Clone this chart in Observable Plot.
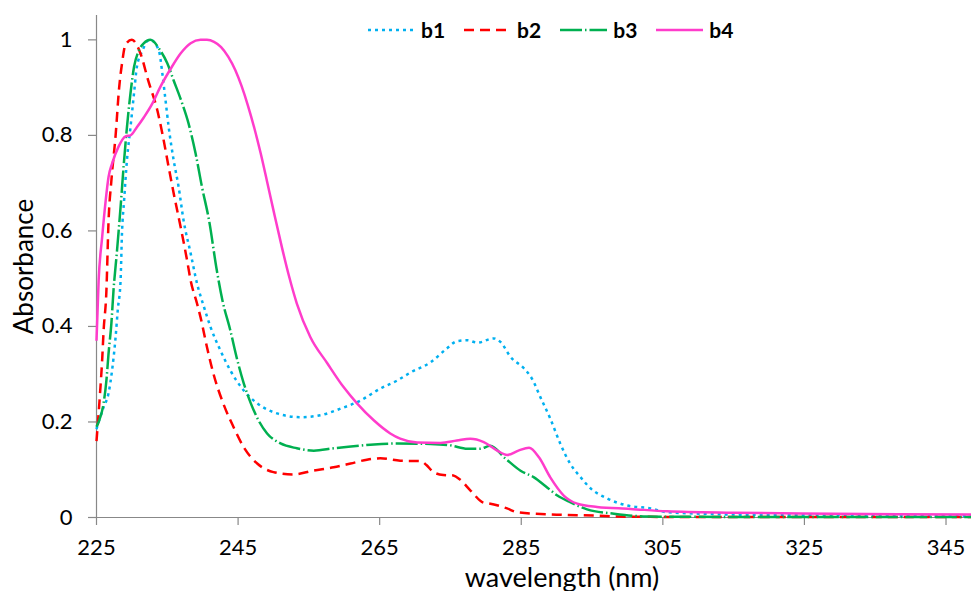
<!DOCTYPE html>
<html>
<head>
<meta charset="utf-8">
<script src="https://cdn.jsdelivr.net/npm/d3@7"></script>
<script src="https://cdn.jsdelivr.net/npm/@observablehq/plot@0.6"></script>
<style>
  html, body { margin: 0; padding: 0; background: #fff; overflow: hidden; }
  #wrap { position: relative; width: 971px; height: 591px; font-family: Lato, "Open Sans", sans-serif; }
  #legend { position: absolute; left: 368px; top: 17px; display: flex; align-items: center; font-weight: bold; font-size: 21px; color: #000; }
  #legend .item { display: flex; align-items: center; margin-right: 19px; }
  #legend svg { display: block; margin-right: 6px; }
</style>
</head>
<body>
<div id="wrap"><div id="legend"></div></div>
<script>
// ---- data (wavelength in nm, absorbance normalised) ----
const seriesNames = ["b1", "b2", "b3", "b4"];

const b1_nm  = [225.0, 225.3, 226.0, 226.7, 227.2, 227.7, 228.0, 228.4, 228.6, 228.9, 229.3, 229.8, 230.3, 230.7, 231.5, 232.2, 232.6, 233.8, 234.3, 234.7, 235.2, 235.9, 236.6, 237.3, 238.3, 239.2, 240.2, 241.1, 242.5, 243.9, 245.8, 247.7, 250.5, 253.8, 256.6, 259.5, 262.3, 265.1, 267.5, 269.4, 272.2, 274.5, 275.9, 277.4, 278.8, 281.1, 282.1, 283.5, 285.4, 286.5, 287.7, 289.1, 290.5, 291.9, 293.4, 294.8, 297.1, 300.0, 303.3, 305.6, 310.4, 320.0, 335.0, 349.0];
const b1_abs = [0.185, 0.200, 0.231, 0.260, 0.308, 0.378, 0.434, 0.496, 0.595, 0.664, 0.748, 0.817, 0.888, 0.943, 0.978, 0.998, 1.000, 0.978, 0.930, 0.880, 0.817, 0.748, 0.692, 0.622, 0.553, 0.490, 0.440, 0.399, 0.350, 0.308, 0.266, 0.239, 0.218, 0.210, 0.214, 0.228, 0.245, 0.270, 0.287, 0.304, 0.325, 0.354, 0.369, 0.371, 0.366, 0.375, 0.367, 0.336, 0.312, 0.291, 0.252, 0.207, 0.155, 0.113, 0.084, 0.061, 0.040, 0.025, 0.019, 0.011, 0.008, 0.005, 0.004, 0.003];

const b2_nm  = [225.0, 225.5, 225.8, 226.0, 226.4, 226.7, 227.1, 227.7, 228.2, 228.6, 229.1, 230.0, 231.2, 232.3, 233.6, 234.3, 235.2, 235.9, 236.9, 237.8, 238.3, 239.2, 239.7, 240.6, 241.5, 242.9, 244.4, 245.8, 247.7, 250.0, 252.8, 255.6, 258.5, 260.9, 263.2, 265.1, 267.9, 270.8, 271.6, 272.6, 274.0, 275.4, 276.3, 277.8, 279.7, 280.2, 283.0, 284.4, 290.0, 295.7, 298.5, 310.0, 349.0];
const b2_abs = [0.160, 0.260, 0.330, 0.390, 0.475, 0.620, 0.705, 0.800, 0.900, 0.950, 0.990, 1.000, 0.972, 0.915, 0.852, 0.804, 0.733, 0.679, 0.607, 0.538, 0.496, 0.448, 0.419, 0.357, 0.302, 0.239, 0.188, 0.147, 0.113, 0.095, 0.090, 0.098, 0.105, 0.113, 0.121, 0.124, 0.119, 0.118, 0.110, 0.095, 0.089, 0.088, 0.080, 0.057, 0.031, 0.030, 0.019, 0.011, 0.006, 0.004, 0.002, 0.001, 0.001];

const b3_nm  = [225.0, 225.3, 226.0, 226.4, 226.7, 227.1, 227.4, 227.9, 228.4, 228.9, 229.3, 229.8, 230.3, 231.0, 231.7, 232.6, 234.0, 235.0, 235.9, 237.1, 238.0, 239.0, 239.9, 240.9, 242.0, 242.8, 243.9, 244.9, 245.8, 246.8, 247.9, 249.1, 251.0, 253.3, 255.7, 258.5, 261.3, 264.2, 267.5, 272.2, 275.0, 277.4, 279.2, 280.6, 282.8, 284.9, 286.8, 288.4, 290.1, 291.9, 294.3, 298.1, 302.8, 320.0, 349.0];
const b3_abs = [0.190, 0.200, 0.239, 0.287, 0.343, 0.406, 0.475, 0.559, 0.650, 0.748, 0.817, 0.888, 0.943, 0.978, 0.993, 1.000, 0.978, 0.951, 0.915, 0.867, 0.825, 0.762, 0.692, 0.622, 0.517, 0.454, 0.392, 0.329, 0.281, 0.239, 0.203, 0.176, 0.155, 0.145, 0.140, 0.145, 0.149, 0.153, 0.155, 0.154, 0.151, 0.144, 0.144, 0.150, 0.123, 0.098, 0.084, 0.066, 0.046, 0.032, 0.017, 0.008, 0.002, 0.001, 0.001];

const b4_nm  = [225.0, 225.3, 225.8, 226.3, 226.7, 227.2, 228.1, 229.1, 229.8, 230.7, 231.7, 232.9, 234.0, 235.5, 236.9, 238.3, 239.7, 240.6, 241.6, 242.6, 243.6, 244.6, 245.5, 246.4, 247.3, 248.2, 249.1, 250.0, 251.2, 252.2, 253.3, 255.2, 257.6, 259.9, 261.8, 264.2, 266.5, 267.9, 270.3, 273.6, 275.9, 277.8, 279.7, 281.6, 283.0, 284.6, 286.1, 287.5, 289.1, 291.0, 292.9, 295.7, 300.4, 305.6, 315.0, 329.1, 349.0];
const b4_abs = [0.370, 0.496, 0.587, 0.664, 0.713, 0.741, 0.776, 0.798, 0.800, 0.817, 0.838, 0.867, 0.901, 0.940, 0.972, 0.993, 1.000, 1.000, 0.996, 0.985, 0.965, 0.937, 0.903, 0.862, 0.815, 0.762, 0.703, 0.643, 0.565, 0.505, 0.448, 0.378, 0.323, 0.273, 0.239, 0.203, 0.176, 0.165, 0.157, 0.156, 0.161, 0.165, 0.158, 0.140, 0.131, 0.140, 0.146, 0.126, 0.084, 0.046, 0.029, 0.022, 0.018, 0.013, 0.010, 0.008, 0.006];

const xTicks = [225, 245, 265, 285, 305, 325, 345];
const yTicks = [0, 0.2, 0.4, 0.6, 0.8, 1];
const yTickLabels = ["0", "0.2", "0.4", "0.6", "0.8", "1"];

// ---- styles ----
const styles = {
  b1: {stroke: "#00B0F0", dash: "3 4"},
  b2: {stroke: "#FF0000", dash: "10 6"},
  b3: {stroke: "#00B050", dash: "22 3 1.5 3"},
  b4: {stroke: "#FF3CCB", dash: null}
};

const raw = {b1: [b1_nm, b1_abs], b2: [b2_nm, b2_abs], b3: [b3_nm, b3_abs], b4: [b4_nm, b4_abs]};
const tables = {};
for (const s of seriesNames) {
  tables[s] = raw[s][0].map((x, i) => ({x, y: raw[s][1][i]}));
}

const font = "Lato, 'Open Sans', sans-serif";
const axisColor = "#888888";

const lineMarks = seriesNames.map(s => Plot.line(tables[s], {
  x: "x", y: "y", curve: "monotone-x",
  stroke: styles[s].stroke, strokeWidth: 2.5,
  strokeDasharray: styles[s].dash || undefined,
  strokeLinecap: "butt", strokeLinejoin: "round"
}));

const chart = Plot.plot({
  width: 971, height: 591,
  marginLeft: 96, marginRight: 0, marginTop: 15, marginBottom: 74,
  style: {fontFamily: font, background: "transparent", overflow: "visible"},
  x: {domain: [225, 348.6]},
  y: {domain: [0, 1.051]},
  marks: [
    Plot.axisX({ticks: xTicks, tickSize: 8, tickPadding: 14, stroke: axisColor, strokeWidth: 1.2,
                fill: "#000", fontSize: 22, label: null, tickFormat: d => String(d)}),
    Plot.axisY({ticks: yTicks, tickSize: 8, tickPadding: 16, stroke: axisColor, strokeWidth: 1.2,
                fill: "#000", fontSize: 22, label: null, tickFormat: d => yTickLabels[yTicks.indexOf(d)]}),
    Plot.ruleY([0], {stroke: axisColor, strokeWidth: 1.2}),
    Plot.ruleX([225], {stroke: axisColor, strokeWidth: 1.2}),
    ...lineMarks,
    Plot.text(["Absorbance"], {frameAnchor: "left", dx: -72, rotate: -90, fontSize: 26, fill: "#000", text: d => d, textAnchor: "middle"}),
    Plot.text(["wavelength (nm)"], {frameAnchor: "bottom", dx: 28, dy: 69, fontSize: 27, fill: "#000", text: d => d, textAnchor: "middle"})
  ]
});
document.getElementById("wrap").appendChild(chart);
chart.style.position = "absolute";
chart.style.left = "0px";
chart.style.top = "0px";

// legend
const legend = document.getElementById("legend");
for (const s of seriesNames) {
  const item = document.createElement("div");
  item.className = "item";
  const ns = "http://www.w3.org/2000/svg";
  const sv = document.createElementNS(ns, "svg");
  sv.setAttribute("width", 47); sv.setAttribute("height", 10);
  const ln = document.createElementNS(ns, "line");
  ln.setAttribute("x1", 0); ln.setAttribute("x2", 47); ln.setAttribute("y1", 5); ln.setAttribute("y2", 5);
  ln.setAttribute("stroke", styles[s].stroke); ln.setAttribute("stroke-width", 2.5);
  if (styles[s].dash) ln.setAttribute("stroke-dasharray", styles[s].dash);
  sv.appendChild(ln);
  const t = document.createElement("span");
  t.textContent = s;
  item.appendChild(sv); item.appendChild(t);
  legend.appendChild(item);
}
</script>
</body>
</html>
